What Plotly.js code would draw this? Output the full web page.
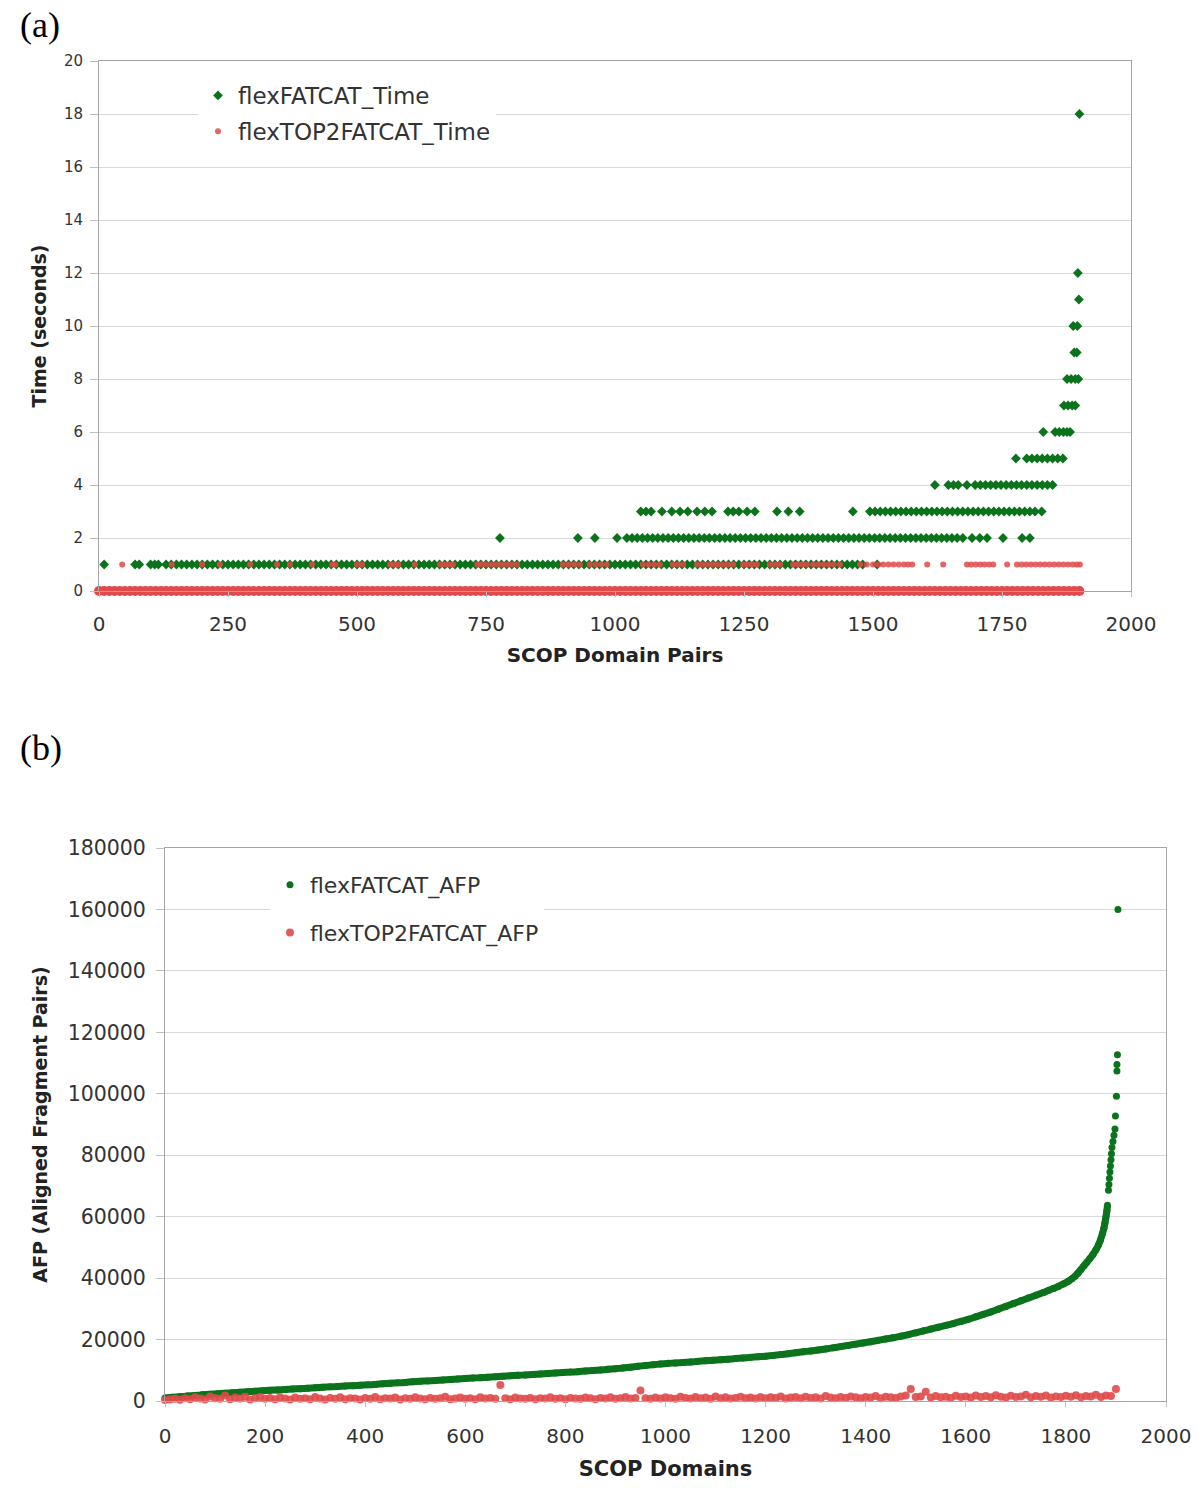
<!DOCTYPE html>
<html>
<head>
<meta charset="utf-8">
<script src="https://cdn.plot.ly/plotly-3.0.1.min.js"></script>
<style>
	body { margin: 0; background: #fff; }
	#chart { width: 1200px; height: 1488px; }
</style>
</head>
<body>
<div id="chart"></div>
<script>

// ---- panel (a): time per domain pair, x positions of the points on each time level ----
const fatcatTimeAt1 = [10, 70, 78, 100, 108, 115, 130, 140, 150, 160, 170, 180, 190, 200, 210, 220, 230, 240, 250, 260, 270, 280, 290, 300, 310, 320, 330, 340, 350, 360, 370, 380, 390, 400, 410, 420, 430, 440, 450, 460, 470, 480, 490, 500, 510, 520, 530, 540, 550, 560, 570, 580, 590, 600, 610, 620, 630, 640, 650, 660, 670, 680, 690, 700, 710, 720, 730, 740, 750, 760, 770, 780, 790, 800, 810, 820, 830, 840, 850, 860, 870, 880, 890, 900, 910, 920, 930, 940, 950, 960, 970, 980, 990, 1000, 1010, 1020, 1030, 1040, 1050, 1060, 1070, 1080, 1090, 1100, 1110, 1120, 1130, 1140, 1150, 1160, 1170, 1180, 1190, 1200, 1210, 1220, 1230, 1240, 1250, 1260, 1270, 1280, 1290, 1300, 1310, 1320, 1330, 1340, 1350, 1360, 1370, 1380, 1390, 1400, 1410, 1420, 1430, 1440, 1450, 1460, 1470, 1480, 1508];
const fatcatTimeAt2 = [777, 928, 961, 1004, 1023, 1033, 1043, 1053, 1063, 1073, 1083, 1093, 1103, 1113, 1123, 1133, 1143, 1153, 1163, 1173, 1183, 1193, 1203, 1213, 1223, 1233, 1243, 1253, 1263, 1273, 1283, 1293, 1303, 1313, 1323, 1333, 1343, 1353, 1363, 1373, 1383, 1393, 1403, 1413, 1423, 1433, 1443, 1453, 1463, 1473, 1483, 1493, 1503, 1513, 1523, 1533, 1543, 1553, 1563, 1573, 1583, 1593, 1603, 1613, 1623, 1633, 1643, 1653, 1663, 1674, 1692, 1707, 1721, 1752, 1789, 1804];
const fatcatTimeAt3 = [1050, 1060, 1070, 1091, 1110, 1126, 1141, 1159, 1174, 1188, 1219, 1229, 1240, 1256, 1271, 1314, 1336, 1358, 1461, 1494, 1504, 1514, 1524, 1534, 1544, 1554, 1564, 1574, 1584, 1594, 1604, 1614, 1624, 1634, 1644, 1654, 1664, 1674, 1684, 1694, 1704, 1714, 1724, 1734, 1744, 1754, 1764, 1774, 1784, 1794, 1804, 1814, 1827];
const fatcatTimeAt4 = [1620, 1646, 1656, 1665, 1682, 1698, 1708, 1718, 1728, 1738, 1748, 1758, 1768, 1778, 1788, 1798, 1808, 1818, 1828, 1838, 1848];
const fatcatTimeAt5 = [1777, 1798, 1808, 1818, 1828, 1838, 1848, 1858, 1868];
const fatcatTimeAt6 = [1830, 1853, 1861, 1869, 1876, 1882];
const fatcatTimeAt7 = [1870, 1878, 1886, 1892];
const fatcatTimeAt8 = [1876, 1884, 1892, 1898];
const fatcatTimeAt9 = [1890, 1895];
const fatcatTimeAt10 = [1888, 1896];
const fatcatTimeAt11 = [1899];
const fatcatTimeAt12 = [1897];
const fatcatTimeAt18 = [1900];

// sampled domain positions used for the dense flexTOP2FATCAT series
const sampleX = [0, 10, 20, 30, 40, 50, 60, 70, 80, 90, 100, 110, 120, 130, 140, 150, 160, 170, 180, 190, 200, 210, 220, 230, 240, 250, 260, 270, 280, 290, 300, 310, 320, 330, 340, 350, 360, 370, 380, 390, 400, 410, 420, 430, 440, 450, 460, 470, 480, 490, 500, 510, 520, 530, 540, 550, 560, 570, 580, 590, 600, 610, 620, 630, 640, 650, 660, 670, 680, 690, 700, 710, 720, 730, 740, 750, 760, 770, 780, 790, 800, 810, 820, 830, 840, 850, 860, 870, 880, 890, 900, 910, 920, 930, 940, 950, 960, 970, 980, 990, 1000, 1010, 1020, 1030, 1040, 1050, 1060, 1070, 1080, 1090, 1100, 1110, 1120, 1130, 1140, 1150, 1160, 1170, 1180, 1190, 1200, 1210, 1220, 1230, 1240, 1250, 1260, 1270, 1280, 1290, 1300, 1310, 1320, 1330, 1340, 1350, 1360, 1370, 1380, 1390, 1400, 1410, 1420, 1430, 1440, 1450, 1460, 1470, 1480, 1490, 1500, 1510, 1520, 1530, 1540, 1550, 1560, 1570, 1580, 1590, 1600, 1610, 1620, 1630, 1640, 1650, 1660, 1670, 1680, 1690, 1700, 1710, 1720, 1730, 1740, 1750, 1760, 1770, 1780, 1790, 1800, 1810, 1820, 1830, 1840, 1850, 1860, 1870, 1880, 1890, 1900];

// flexTOP2FATCAT time: almost everything is 0 s, these positions take 1 s
const top2TimeAt1 = [45, 141, 200, 234, 293, 345, 370, 413, 452, 458, 500, 510, 564, 572, 580, 612, 661, 670, 678, 686, 733, 740, 750, 760, 770, 780, 790, 800, 810, 899, 910, 921, 932, 951, 962, 973, 984, 1054, 1065, 1076, 1087, 1112, 1122, 1132, 1159, 1169, 1179, 1189, 1199, 1209, 1219, 1229, 1248, 1257, 1266, 1275, 1300, 1310, 1320, 1345, 1354, 1363, 1372, 1384, 1394, 1404, 1414, 1424, 1436, 1475, 1488, 1500, 1510, 1520, 1530, 1540, 1550, 1560, 1568, 1576, 1605, 1636, 1682, 1690, 1699, 1708, 1716, 1725, 1733, 1760, 1779, 1788, 1797, 1806, 1815, 1824, 1833, 1842, 1851, 1860, 1869, 1878, 1887, 1895, 1901];

// ---- panel (b): AFP counts ----
const fatcatAfpX = [0, 15, 30, 45, 60, 75, 90, 105, 120, 135, 150, 165, 180, 195, 210, 225, 240, 255, 270, 285, 300, 315, 330, 345, 360, 375, 390, 405, 420, 435, 450, 465, 480, 495, 510, 525, 540, 555, 570, 585, 600, 615, 630, 645, 660, 675, 690, 705, 720, 735, 750, 765, 780, 795, 810, 825, 840, 855, 870, 885, 900, 915, 930, 945, 960, 975, 990, 1005, 1020, 1035, 1050, 1065, 1080, 1095, 1110, 1125, 1140, 1155, 1170, 1185, 1200, 1215, 1230, 1245, 1260, 1275, 1290, 1305, 1320, 1335, 1350, 1365, 1380, 1395, 1410, 1425, 1440, 1455, 1470, 1485, 1500, 1515, 1530, 1545, 1560, 1575, 1590, 1605, 1620, 1635, 1650, 1665, 1680, 1695, 1710, 1725, 1740, 1755, 1765, 1775, 1785, 1795, 1805, 1812, 1818, 1824, 1830, 1836, 1842, 1848, 1854, 1860, 1865, 1869, 1873, 1876, 1878, 1880, 1882, 1883, 1885, 1886, 1887, 1888, 1889, 1890, 1891, 1892, 1894, 1896, 1898, 1899, 1901, 1902, 1902, 1903, 1904];
const fatcatAfp = [1000, 1200, 1400, 1600, 1800, 2000, 2200, 2350, 2500, 2700, 2850, 3000, 3200, 3350, 3500, 3600, 3750, 3900, 4000, 4150, 4300, 4450, 4600, 4700, 4850, 5000, 5100, 5250, 5400, 5600, 5750, 5900, 6050, 6250, 6400, 6550, 6700, 6850, 7000, 7150, 7300, 7450, 7600, 7750, 7900, 8050, 8200, 8350, 8500, 8650, 8800, 8950, 9100, 9250, 9400, 9550, 9750, 9900, 10100, 10300, 10500, 10750, 11000, 11300, 11550, 11800, 12050, 12250, 12400, 12550, 12700, 12900, 13100, 13250, 13450, 13600, 13800, 14000, 14200, 14400, 14600, 14850, 15100, 15400, 15700, 16000, 16300, 16600, 16950, 17300, 17700, 18100, 18500, 18900, 19300, 19750, 20200, 20600, 21100, 21600, 22200, 22800, 23400, 24000, 24600, 25200, 25900, 26600, 27400, 28200, 29000, 29900, 30800, 31700, 32600, 33500, 34400, 35300, 36000, 36600, 37300, 38100, 39000, 39800, 40600, 41600, 42800, 44000, 45200, 46400, 47700, 49200, 50800, 52400, 54500, 56300, 58000, 59900, 62000, 63700, 68600, 70500, 72500, 74500, 76500, 78500, 80500, 82500, 84500, 86500, 88500, 92800, 99200, 107400, 109500, 112700, 160000];
const top2Afp = [300, 500, 700, 400, 900, 600, 1200, 800, 500, 1500, 900, 700, 1800, 600, 1100, 800, 1400, 500, 900, 1300,
	700, 1000, 600, 1200, 800, 500, 1100, 700, 900, 600, 1300, 800, 500, 1000, 700, 1200, 600, 900, 800, 500,
	1000, 700, 1300, 600, 900, 800, 1100, 500, 900, 700, 1200, 800, 600, 1000, 700, 900, 1400, 600, 800, 1100,
	700, 900, 600, 1200, 800, 1000, 700, 5200, 900, 600, 1100, 800, 700, 1000, 600, 900, 800, 1200, 700, 900,
	600, 1000, 800, 700, 1100, 900, 600, 1000, 800, 1200, 700, 900, 1300, 800, 1000, 3400, 900, 700, 1100, 800,
	1200, 900, 700, 1400, 1000, 800, 1300, 900, 1100, 700, 1500, 900, 1200, 800, 1000, 1400, 900, 1100, 800, 1300,
	900, 1200, 1000, 1500, 800, 1100, 1300, 900, 1400, 1000, 1200, 800, 1600, 1100, 900, 1300, 1000, 1500, 1200, 900,
	1300, 1100, 1600, 900, 1400, 1200, 1000, 1500, 1800, 3900, 1300, 1500, 3000, 1100, 1600, 1200, 1400, 1000, 1700, 1300,
	1500, 1100, 1800, 1300, 1600, 1200, 1900, 1400, 1100, 1700, 1300, 1500, 2000, 1200, 1600, 1400, 1800, 1100, 1500, 1300,
	1700, 1400, 1900, 1200, 1600, 1500, 2000, 1300, 1800, 1600, 3900];

const GREEN = '#0b731c';
const RED = '#e04a4a';
const FONT = 'DejaVu Sans';

// flatten the time levels into x/y lists
const fatcatTimeLevels = [
	[1, fatcatTimeAt1], [2, fatcatTimeAt2], [3, fatcatTimeAt3], [4, fatcatTimeAt4],
	[5, fatcatTimeAt5], [6, fatcatTimeAt6], [7, fatcatTimeAt7], [8, fatcatTimeAt8],
	[9, fatcatTimeAt9], [10, fatcatTimeAt10], [11, fatcatTimeAt11], [12, fatcatTimeAt12],
	[18, fatcatTimeAt18]
];
var fatcatTimeX = [];
var fatcatTimeY = [];
fatcatTimeLevels.forEach(level => {
	level[1].forEach(x => {
		fatcatTimeX.push(x);
		fatcatTimeY.push(level[0]);
	});
});

// the densely packed part of the AFP curve (before the small gap near 65000)
var denseEnd = fatcatAfp.indexOf(63700) + 1;

const traces = [
	{
		x: fatcatTimeX,
		y: fatcatTimeY,
		mode: 'markers',
		type: 'scatter',
		name: 'flexFATCAT_Time',
		legendgroup: 'a1',
		legend: 'legend',
		cliponaxis: false,
		marker: { symbol: 'diamond', size: 7.5, color: GREEN }
	},
	{
		x: sampleX,
		y: sampleX.map(() => 0),
		mode: 'markers',
		type: 'scatter',
		name: 'flexTOP2FATCAT_Time',
		legendgroup: 'a2',
		legend: 'legend',
		showlegend: false,
		cliponaxis: false,
		marker: { symbol: 'circle', size: 10, color: RED }
	},
	{
		x: top2TimeAt1,
		y: top2TimeAt1.map(() => 1),
		mode: 'markers',
		type: 'scatter',
		name: 'flexTOP2FATCAT_Time',
		legendgroup: 'a2',
		legend: 'legend',
		cliponaxis: false,
		marker: { symbol: 'circle', size: 6, color: RED, opacity: 0.85 }
	},
	{
		x: fatcatAfpX.slice(0, denseEnd),
		y: fatcatAfp.slice(0, denseEnd),
		xaxis: 'x2',
		yaxis: 'y2',
		mode: 'lines',
		type: 'scatter',
		name: 'flexFATCAT_AFP',
		legendgroup: 'b1',
		legend: 'legend2',
		showlegend: false,
		cliponaxis: false,
		line: { color: GREEN, width: 7, shape: 'spline', smoothing: 0.6 }
	},
	{
		x: fatcatAfpX,
		y: fatcatAfp,
		xaxis: 'x2',
		yaxis: 'y2',
		mode: 'markers',
		type: 'scatter',
		name: 'flexFATCAT_AFP',
		legendgroup: 'b1',
		legend: 'legend2',
		cliponaxis: false,
		marker: { symbol: 'circle', size: 7, color: GREEN }
	},
	{
		x: sampleX,
		y: top2Afp,
		xaxis: 'x2',
		yaxis: 'y2',
		mode: 'markers',
		type: 'scatter',
		name: 'flexTOP2FATCAT_AFP',
		legendgroup: 'b2',
		legend: 'legend2',
		cliponaxis: false,
		marker: { symbol: 'circle', size: 8, color: RED, opacity: 0.9 }
	}
];

const gridStyle = {
	gridcolor: '#d9d9d9',
	gridwidth: 1,
	showline: true,
	linecolor: '#a6a6a6',
	linewidth: 1,
	mirror: true,
	zeroline: false,
	ticks: 'outside',
	tickcolor: '#bfbfbf',
	automargin: false,
	fixedrange: true
};

const layout = {
	width: 1200,
	height: 1488,
	margin: { l: 0, r: 0, t: 0, b: 0 },
	paper_bgcolor: 'white',
	plot_bgcolor: 'white',
	font: { family: FONT, color: '#333' },
	xaxis: Object.assign({}, gridStyle, {
		domain: [99 / 1200, 1131 / 1200],
		anchor: 'y',
		showgrid: false,
		range: [0, 2000],
		tick0: 0,
		dtick: 250,
		ticklen: 5,
		ticklabelstandoff: 10,
		tickfont: { size: 20, family: FONT, color: '#333' },
		title: { text: 'SCOP Domain Pairs', standoff: 12, font: { size: 20, family: FONT, weight: 'bold', color: '#222' } }
	}),
	yaxis: Object.assign({}, gridStyle, {
		domain: [1 - 591 / 1488, 1 - 61 / 1488],
		anchor: 'x',
		showgrid: true,
		range: [0, 20],
		tick0: 0,
		dtick: 2,
		ticklen: 8,
		ticklabelstandoff: 4,
		tickfont: { size: 15, family: FONT, color: '#333' },
		title: { text: 'Time (seconds)', standoff: 12, font: { size: 19, family: FONT, weight: 'bold', color: '#222' } }
	}),
	xaxis2: Object.assign({}, gridStyle, {
		domain: [165 / 1200, 1166 / 1200],
		anchor: 'y2',
		showgrid: false,
		range: [0, 2000],
		tick0: 0,
		dtick: 200,
		ticklen: 5,
		ticklabelstandoff: 12,
		tickfont: { size: 20, family: FONT, color: '#333' },
		title: { text: 'SCOP Domains', standoff: 14, font: { size: 21, family: FONT, weight: 'bold', color: '#222' } }
	}),
	yaxis2: Object.assign({}, gridStyle, {
		domain: [1 - 1401 / 1488, 1 - 848 / 1488],
		anchor: 'x2',
		showgrid: true,
		range: [0, 180000],
		tick0: 0,
		dtick: 20000,
		tickformat: 'd',
		ticklen: 8,
		ticklabelstandoff: 6,
		tickfont: { size: 20.5, family: FONT, color: '#333' },
		title: { text: 'AFP (Aligned Fragment Pairs)', standoff: 14, font: { size: 19, family: FONT, weight: 'bold', color: '#222' } }
	}),
	legend: {
		x: 198 / 1200,
		y: 1 - 74 / 1488,
		xanchor: 'left',
		yanchor: 'top',
		bgcolor: 'white',
		borderwidth: 0,
		tracegroupgap: 3,
		itemsizing: 'trace',
		font: { size: 23, family: FONT, color: '#333' }
	},
	legend2: {
		x: 270 / 1200,
		y: 1 - 864 / 1488,
		xanchor: 'left',
		yanchor: 'top',
		bgcolor: 'white',
		borderwidth: 0,
		tracegroupgap: 16,
		itemsizing: 'trace',
		font: { size: 22, family: FONT, color: '#333' }
	},
	annotations: [
		{
			text: '(a)', xref: 'paper', yref: 'paper',
			x: 40 / 1200, y: 1 - 25 / 1488, xanchor: 'center', yanchor: 'middle',
			showarrow: false, font: { size: 36, family: 'Liberation Serif', color: '#000' }
		},
		{
			text: '(b)', xref: 'paper', yref: 'paper',
			x: 41 / 1200, y: 1 - 748 / 1488, xanchor: 'center', yanchor: 'middle',
			showarrow: false, font: { size: 36, family: 'Liberation Serif', color: '#000' }
		}
	]
};

Plotly.newPlot('chart', traces, layout, { staticPlot: true, displayModeBar: false });

</script>
</body>
</html>
